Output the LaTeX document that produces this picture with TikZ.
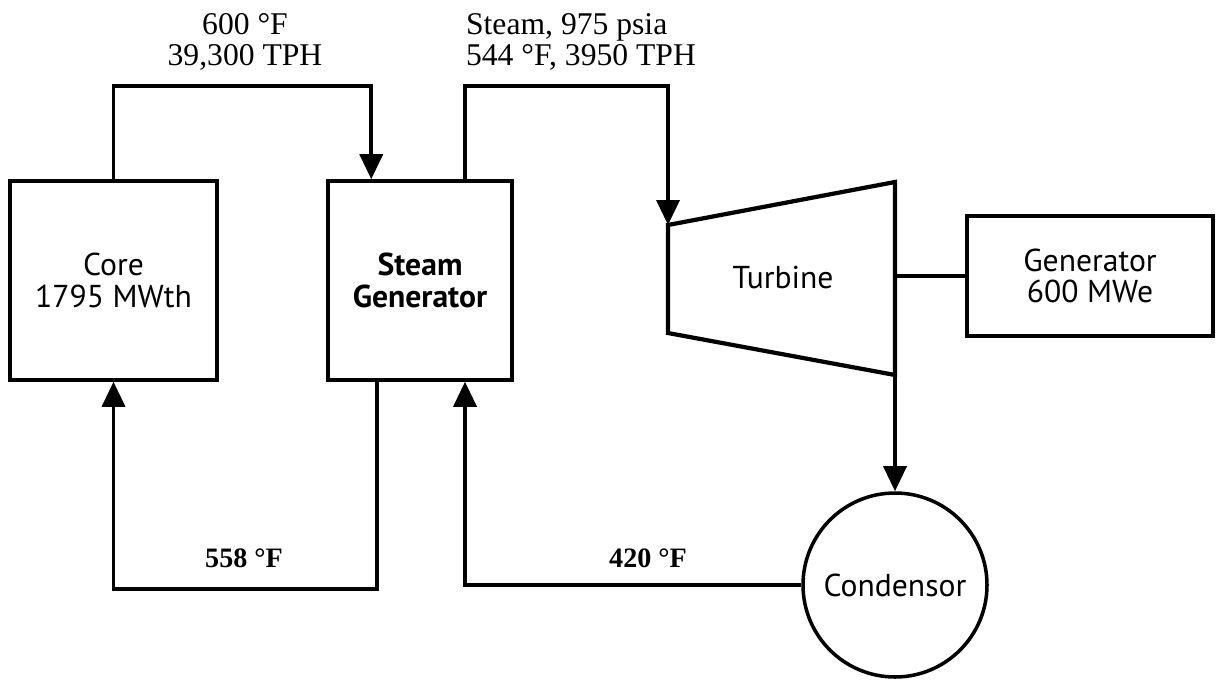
\documentclass[tikz,border=0pt]{standalone}
\usepackage{fontspec}
\setmainfont{Liberation Serif}
\setsansfont{PT Sans}
\usepackage{tikz}
\usetikzlibrary{arrows.meta, positioning, calc}

\begin{document}
\begin{tikzpicture}[
  x=0.2mm, y=-0.2mm,
  font=\fontsize{18}{18}\selectfont,
  unitbox/.style={
    draw, line width=2pt, align=center, inner sep=0pt,
    font=\fontsize{18}{18}\selectfont\sffamily
  },
  flow/.style={-{Triangle[length=5mm, width=4.6mm]}, line width=2pt},
  pipe/.style={line width=2pt},
  tag/.style={align=center, inner sep=1pt}
]
  \useasboundingbox (0,0) rectangle (1217,679);

  % plant units
  \node[unitbox, minimum width=41.4mm, minimum height=39.8mm] (core) at (113.5,280.5) {Core\\1795 MWth};
  \node[unitbox, minimum width=36.8mm, minimum height=39.8mm, font=\fontsize{18}{18}\selectfont\sffamily\bfseries] (sg) at (420,280.5) {Steam\\Generator};
  \node[unitbox, minimum width=49.2mm, minimum height=24mm] (gen) at (1090,276) {Generator\\600 MWe};
  \node[unitbox, circle, minimum size=36.8mm] (cond) at (895,585) {Condensor};

  % turbine drawn as a trapezium
  \coordinate (tTL) at (668,225);
  \coordinate (tTR) at (895,182);
  \coordinate (tBR) at (895,375);
  \coordinate (tBL) at (668,333);
  \draw[pipe, line width=2.4pt, line join=miter] (tTL) -- (tTR) -- (tBR) -- (tBL) -- cycle;
  \node[font=\fontsize{18}{18}\selectfont\sffamily] (turb) at (783,277) {Turbine};
  \coordinate (tOut) at (tTR |- gen.west);

  % tap points on the steam generator
  \coordinate (sgIn)   at ($(sg.north west)!0.24!(sg.north east)$);
  \coordinate (sgOut)  at ($(sg.north west)!0.74!(sg.north east)$);
  \coordinate (sgDown) at ($(sg.south west)!0.27!(sg.south east)$);
  \coordinate (sgRet)  at ($(sg.south west)!0.74!(sg.south east)$);

  % loops
  \draw[flow] (core.north) -- ++(0,-93) -| (sgIn);
  \draw[flow] (sgOut) -- ++(0,-93) -| (tTL);
  \draw[pipe] (tOut) -- (gen.west);
  \draw[flow] (tBR) -- (cond.north);
  \draw[flow] (cond.west) -| (sgRet);
  \draw[flow] (sgDown) -- ++(0,207) -| (core.south);

  % stream conditions
  \node[tag] (hotleg) at (245,42) {600 °F\\39,300 TPH};
  \node[tag, anchor=west, align=left] (steamline) at (464,42) {Steam, 975 psia\\544 °F, 3950 TPH};
  \node[tag, font=\fontsize{16}{18}\selectfont\bfseries] (coldleg) at (244,558) {558 °F};
  \node[tag, font=\fontsize{16}{18}\selectfont\bfseries] (feedline) at (648,558) {420 °F};
\end{tikzpicture}
\end{document}
